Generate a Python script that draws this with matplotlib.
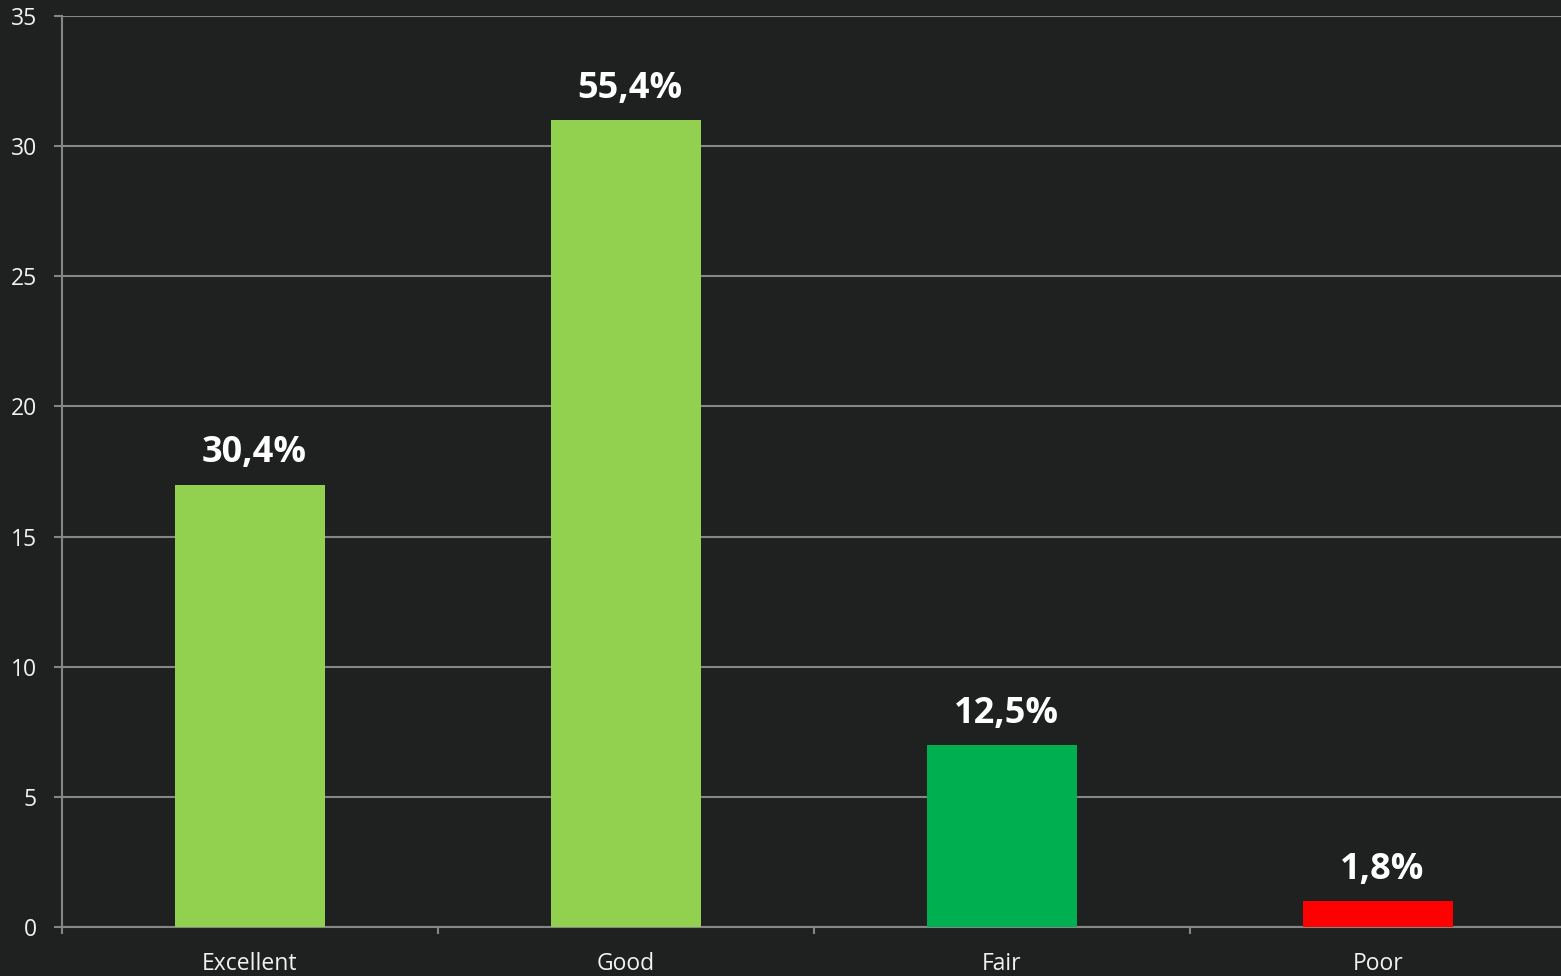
import matplotlib
matplotlib.use("Agg")
import matplotlib.pyplot as plt
from matplotlib.ticker import FixedLocator

plt.rcParams['font.family'] = ['Open Sans', 'DejaVu Sans']

categories = ["Excellent", "Good", "Fair", "Poor"]
counts = [17, 31, 7, 1]
percent_labels = ["30,4%", "55,4%", "12,5%", "1,8%"]
bar_colors = ["#92D050", "#92D050", "#00B050", "#FF0000"]
y_ticks = [0, 5, 10, 15, 20, 25, 30, 35]

bg = "#1f2020"
grid_col = "#868686"
text_col = "#f2f2f2"

W, H = 1561, 976
fig = plt.figure(figsize=(W / 100, H / 100), dpi=100, facecolor=bg)
ax = fig.add_axes([62 / W, 49 / H, 1504 / W, (927 - 16) / H])
ax.set_facecolor(bg)

x = list(range(len(categories)))
ax.bar(x, counts, width=0.40, color=bar_colors, zorder=3)

for xi, c, lab in zip(x, counts, percent_labels):
    ax.annotate(lab, (xi, c), xytext=(3, 16), textcoords="offset points",
                ha="center", va="baseline", fontsize=26, fontweight="bold",
                color="white", zorder=4)

ax.set_xlim(-0.5, 3.5)
ax.set_ylim(0, 35)
ax.set_yticks(y_ticks)
ax.set_yticklabels([str(v) for v in y_ticks])
ax.yaxis.grid(True, color=grid_col, linewidth=1.5, zorder=0)
ax.set_axisbelow(True)

ax.set_xticks(x)
ax.set_xticklabels(categories)
ax.xaxis.set_minor_locator(FixedLocator([-0.5, 0.5, 1.5, 2.5]))
ax.tick_params(axis="x", which="major", length=0, pad=18, labelsize=16.5,
               labelcolor=text_col)
ax.tick_params(axis="x", which="minor", length=5, width=1.5, color=grid_col)
ax.tick_params(axis="y", length=6, width=1.5, color=grid_col, pad=12,
               labelsize=16.5, labelcolor=text_col)

for side in ("top", "right"):
    ax.spines[side].set_visible(False)
for side in ("left", "bottom"):
    ax.spines[side].set_color(grid_col)
    ax.spines[side].set_linewidth(1.5)

fig.savefig("out.png", dpi=100, facecolor=bg)
